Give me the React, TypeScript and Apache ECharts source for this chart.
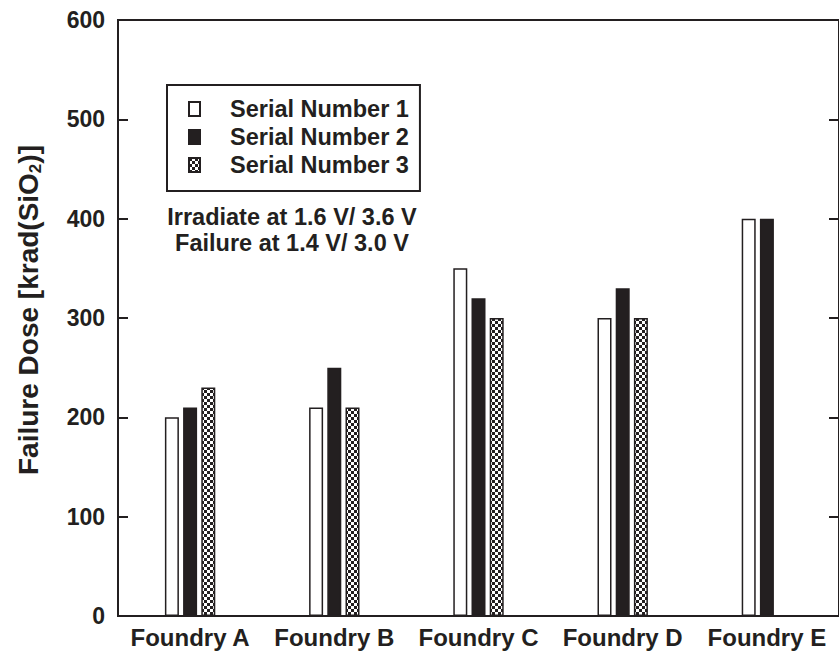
import React, { useEffect, useRef } from "react";
import * as echarts from "echarts";

const categories = ["Foundry A", "Foundry B", "Foundry C", "Foundry D", "Foundry E"];
const serial1 = [200, 210, 350, 300, 400];
const serial2 = [210, 250, 320, 330, 400];
const serial3: (number | string)[] = [230, 210, 300, 300, "-"];
const seriesNames = ["Serial Number 1", "Serial Number 2", "Serial Number 3"];
const yTicks = { min: 0, max: 600, interval: 100 };
const noteLines = ["Irradiate at 1.6 V/ 3.6 V", "Failure at 1.4 V/ 3.0 V"];

const INK = "#231f20";
const FONT = "'Liberation Sans', Arial, Helvetica, sans-serif";

function makeChecker() {
  const c = document.createElement("canvas");
  c.width = 6;
  c.height = 6;
  const ctx = c.getContext("2d")!;
  ctx.fillStyle = "#ffffff";
  ctx.fillRect(0, 0, 6, 6);
  ctx.fillStyle = INK;
  ctx.fillRect(0, 0, 3, 3);
  ctx.fillRect(3, 3, 3, 3);
  return c;
}

export default function App() {
  const ref = useRef<HTMLDivElement>(null);
  useEffect(() => {
    if (!ref.current) return;
    const chart = echarts.init(ref.current, undefined, { renderer: "svg" });
    const checker = makeChecker();
    const pattern: any = { image: checker, repeat: "repeat", imageWidth: 6, imageHeight: 6 };
    const barCommon = {
      type: "bar",
      barWidth: 14,
      barGap: "30%",
    };
    chart.setOption({
      animation: false,
      backgroundColor: "#ffffff",
      grid: {
        left: 118,
        right: -4,
        top: 20,
        bottom: 37,
        show: true,
        borderColor: INK,
        borderWidth: 2,
        backgroundColor: "transparent",
      },
      legend: {
        orient: "vertical",
        left: 167,
        top: 85,
        itemWidth: 11,
        itemHeight: 14,
        itemGap: 4,
        padding: [12, 11, 14, 21],
        borderColor: INK,
        borderWidth: 2,
        icon: "rect",
        data: seriesNames,
        textStyle: {
          fontFamily: FONT,
          fontWeight: "bold",
          fontSize: 23.5,
          color: INK,
          padding: [0, 0, 0, 25],
        },
      },
      xAxis: {
        type: "category",
        data: categories,
        axisLine: { show: true, lineStyle: { color: INK, width: 2 } },
        axisTick: { show: false },
        axisLabel: {
          interval: 0,
          fontFamily: FONT,
          fontWeight: "bold",
          fontSize: 24,
          color: INK,
          margin: 9,
        },
      },
      yAxis: [
        {
          type: "value",
          min: yTicks.min,
          max: yTicks.max,
          interval: yTicks.interval,
          position: "left",
          splitLine: { show: false },
          axisLine: { show: true, lineStyle: { color: INK, width: 2 } },
          axisTick: { show: true, inside: true, length: 10, lineStyle: { color: INK, width: 2 } },
          axisLabel: {
            fontFamily: FONT,
            fontWeight: "bold",
            fontSize: 23,
            color: INK,
            margin: 13,
          },
          name: "{a|Failure Dose [krad(SiO}{s|2}{a|)]}",
          nameLocation: "middle",
          nameGap: 74,
          nameRotate: 90,
          nameTextStyle: {
            padding: [0, 0, 0, 16],
            rich: {
              a: { fontFamily: FONT, fontWeight: "bold", fontSize: 28, color: INK, lineHeight: 32 },
              s: {
                fontFamily: FONT,
                fontWeight: "bold",
                fontSize: 17,
                color: INK,
                lineHeight: 16,
                verticalAlign: "bottom",
              },
            },
          },
        },
        {
          type: "value",
          min: yTicks.min,
          max: yTicks.max,
          interval: yTicks.interval,
          position: "right",
          splitLine: { show: false },
          axisLine: { show: false },
          axisTick: { show: true, inside: true, length: 10, lineStyle: { color: INK, width: 2 } },
          axisLabel: { show: false },
        },
      ],
      series: [
        {
          ...barCommon,
          name: seriesNames[0],
          data: serial1,
          itemStyle: { color: "#ffffff", borderColor: INK, borderWidth: 1.5 },
        },
        {
          ...barCommon,
          name: seriesNames[1],
          data: serial2,
          itemStyle: { color: INK, borderColor: INK, borderWidth: 1.5 },
        },
        {
          ...barCommon,
          name: seriesNames[2],
          data: serial3,
          itemStyle: { color: pattern, borderColor: INK, borderWidth: 1.5 },
        },
      ],
      graphic: noteLines.map((t, i) => ({
        type: "text",
        x: 292,
        y: 217 + i * 26,
        style: {
          text: t,
          fill: INK,
          font: `bold 23.5px ${FONT}`,
          textAlign: "center",
          textVerticalAlign: "middle",
        },
      })),
    });
    return () => chart.dispose();
  }, []);
  return (
    <div
      ref={ref}
      style={{ position: "fixed", left: 0, top: 0, width: 839, height: 653 }}
    />
  );
}
